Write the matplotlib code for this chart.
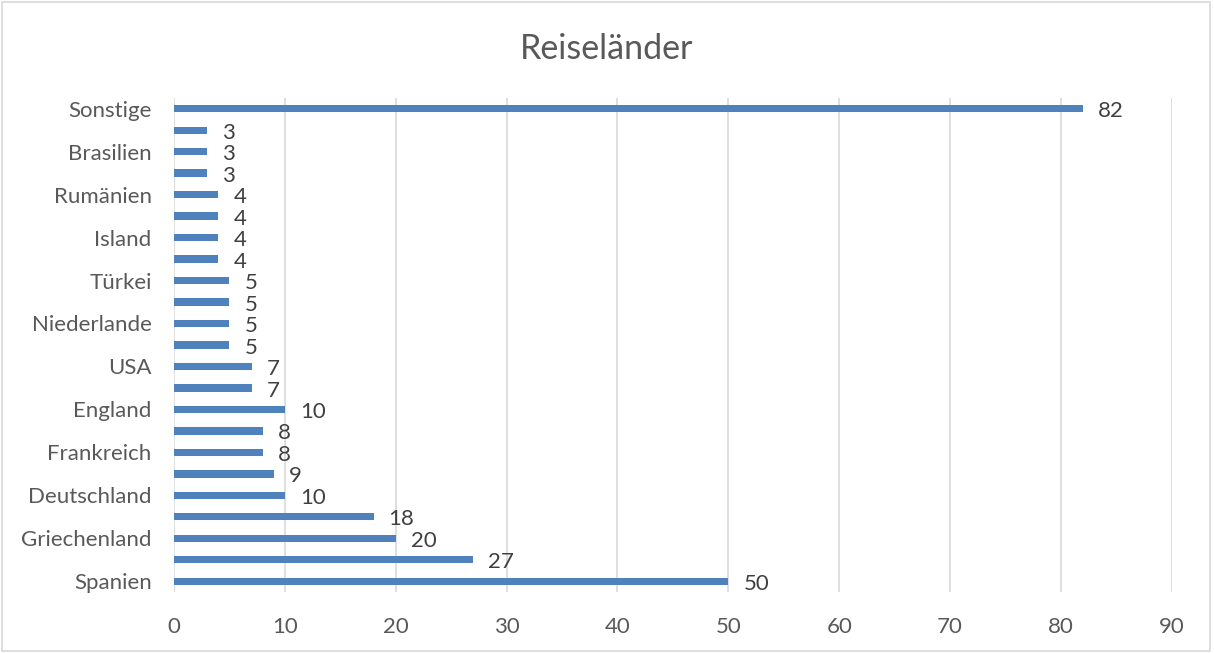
import matplotlib
matplotlib.use("Agg")
import matplotlib.pyplot as plt
from matplotlib.patches import Rectangle

# bottom to top; None = category whose label is hidden in the reference
categories = ["Spanien", None, "Griechenland", None, "Deutschland", None, "Frankreich", None,
              "England", None, "USA", None, "Niederlande", None, "Türkei", None, "Island", None,
              "Rumänien", None, "Brasilien", None, "Sonstige"]
values = [50, 27, 20, 18, 10, 9, 8, 8, 10, 7, 7, 5, 5, 5, 5, 4, 4, 4, 4, 3, 3, 3, 82]
xticks = [0, 10, 20, 30, 40, 50, 60, 70, 80, 90]
title = "Reiseländer"

plt.rcParams['font.family'] = ['Lato', 'DejaVu Sans']
txt = "#595959"

fig = plt.figure(figsize=(12.14, 6.53), dpi=100)
fig.patches.append(Rectangle((0.002, 0.003), 0.995, 0.994, transform=fig.transFigure,
                             fill=False, edgecolor="#D9D9D9", linewidth=1.2))
ax = fig.add_axes([0.1433, 0.0934, 0.822, 0.7566])

y = list(range(len(values)))
ax.barh(y, values, height=0.34, color="#4F81BD", zorder=3)
for yi, v in zip(y, values):
    ax.text(v + 1.35, yi - 0.12, str(v), va="center", ha="left", fontsize=16, color="#404040")

ax.set_xlim(0, 90)
ax.set_ylim(-0.5, len(values) - 0.5)
ax.set_xticks(xticks)
ax.set_xticklabels([str(t) for t in xticks])
lab_pos = [i for i, c in enumerate(categories) if c is not None]
ax.set_yticks(lab_pos)
ax.set_yticklabels([categories[i] for i in lab_pos])
ax.tick_params(axis="both", length=0, labelsize=16, labelcolor=txt)
ax.tick_params(axis="x", pad=18)
ax.tick_params(axis="y", pad=16)
ax.grid(axis="x", color="#D9D9D9", linewidth=1.2, zorder=0)
for s in ax.spines.values():
    s.set_visible(False)
fig.text(0.5, 0.925, title, ha="center", va="center", fontsize=24.5, color=txt)

fig.savefig("out.png", dpi=100)
